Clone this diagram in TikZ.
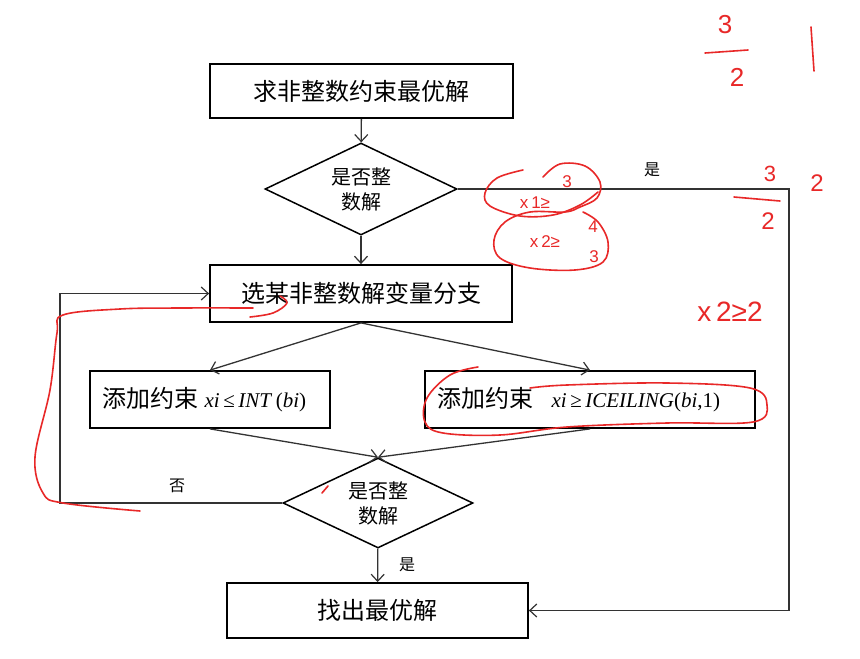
\documentclass[tikz,border=0pt]{standalone}
\usepackage{fontspec}
\setmainfont{Liberation Serif}
\newfontfamily\cjk{Noto Sans CJK SC}
\newfontfamily\hand{Liberation Sans}
\newfontfamily\tms{Liberation Serif}
\usetikzlibrary{arrows.meta,shapes.geometric}
\newcommand{\mtxt}[1]{{\tms\fontsize{21}{23}\selectfont #1}}
\begin{document}
\begin{tikzpicture}[x=1pt,y=-1pt,
  box/.style={draw=black,line width=1.8pt,inner sep=0pt,font=\cjk\fontsize{24}{26}\selectfont},
  lbox/.style={box,inner xsep=12pt,align=left},
  dia/.style={draw=black,line width=1.5pt,diamond,aspect=2.09,inner sep=0pt,align=center,font=\cjk\fontsize{20}{25}\selectfont},
  conn/.style={draw=black!80,line width=1.3pt},
  arr/.style={conn,-{Straight Barb[length=7pt,width=13pt,line width=1.2pt]}},
  lbl/.style={font=\cjk\fontsize{16}{18}\selectfont,inner sep=0pt},
  pen/.style={draw={rgb,255:red,232;green,40;blue,40},line width=1.6pt,line cap=round,line join=round},
  pentext/.style={text={rgb,255:red,232;green,40;blue,40},font=\hand\fontsize{17}{19}\selectfont,inner sep=0pt}]
\useasboundingbox (0,0) rectangle (860,659);
\fill[white] (0,0) rectangle (860,659);

% nodes
\node[box,minimum width=303pt,minimum height=54pt] (b1) at (361.5,91) {求非整数约束最优解};
\node[dia,minimum width=192pt,minimum height=92pt] (d1) at (361,189) {是否整\\数解};
\node[box,minimum width=302pt,minimum height=57pt] (b2) at (361,293.5) {选某非整数解变量分支};
\node[lbox,text width=216pt,minimum height=57pt] (b3) at (210,399.5) {添加约束\;\mtxt{\textit{xi}\,≤\,\textit{INT}\,(\textit{bi})}};
\node[lbox,text width=306pt,minimum height=57pt] (b4) at (590,399.5) {添加约束\enspace\;\mtxt{\textit{xi}\,≥\,\textit{ICEILING}(\textit{bi},1)}};
\node[dia,minimum width=190pt,minimum height=90pt] (d2) at (378,503) {是否整\\数解};
\node[box,minimum width=301pt,minimum height=55pt] (b5) at (377.5,610.5) {找出最优解};

\coordinate (c1) at (789,189);
\coordinate (c2) at (60,503);

% connectors
\draw[arr] (b1) -- (d1);
\draw[arr] (d1) -- (b2);
\draw[arr] (d1.east) -- (c1) |- (b5.east);
\draw[arr] (b2.south) -- (b3.north);
\draw[arr] (b2.south) -- (b4.north);
\draw[arr] (b3.south) -- (d2.north);
\draw[arr] (b4.south) -- (d2.north);
\draw[arr] (d2.west) -- (c2) |- (b2.west);
\draw[arr] (d2) -- (b5);

% labels
\node[lbl] (l1) at (652,170) {是};
\node[lbl] (l2) at (177,486) {否};
\node[lbl] (l3) at (407,565) {是};

% red handwritten annotations
\draw[pen] plot[smooth,tension=0.6] coordinates {(253,308) (180,308) (120,309) (63,315) (57,333) (50,390) (35,457) (43,493) (63,503) (140,511)};
\draw[pen] plot[smooth,tension=0.6] coordinates {(250,317) (273,313) (287,303) (280,296)};
\draw[pen] plot[smooth,tension=0.6] coordinates {(478,367) (450,375) (427,398) (425,422) (443,433) (500,435) (567,427) (667,423) (753,422) (767,405) (750,388) (667,383) (567,385) (530,388)};
\draw[pen] (322,493) -- (328,486);
% upper loops near first diamond
\draw[pen] plot[smooth,tension=0.6] coordinates {(523,170) (497,178) (485,193) (490,206) (520,216) (553,215) (580,205) (598,192)};
\draw[pen] plot[smooth,tension=0.6] coordinates {(543,177) (560,164) (585,166) (600,182) (597,198) (580,207) (565,212) (530,212) (505,222) (494,240) (500,258) (530,268) (575,270) (603,262) (608,242) (598,222) (583,212)};
\node[pentext] (t1) at (535,203) {x\,1≥};
\node[pentext] (t2) at (567,182) {3};
\node[pentext] (t3) at (593,227) {4};
\node[pentext] (t4) at (545,242) {x\,2≥};
\node[pentext] (t5) at (594,257) {3};
% top right fractions
\node[pentext,font=\hand\fontsize{26}{28}\selectfont] (t6) at (725,25) {3};
\draw[pen] (705,53) -- (748,50);
\node[pentext,font=\hand\fontsize{26}{28}\selectfont] (t7) at (737,77) {2};
\draw[pen] (811,27) -- (814,71);
\node[pentext,font=\hand\fontsize{22}{24}\selectfont] (t8) at (770,174) {3};
\draw[pen] (734,197) -- (780,201);
\node[pentext,font=\hand\fontsize{24}{26}\selectfont] (t9) at (768,221) {2};
\node[pentext,font=\hand\fontsize{24}{26}\selectfont] (t10) at (817,183) {2};
\node[pentext,font=\hand\fontsize{28}{30}\selectfont] (t11) at (730,312) {x\,2≥2};
\end{tikzpicture}
\end{document}
